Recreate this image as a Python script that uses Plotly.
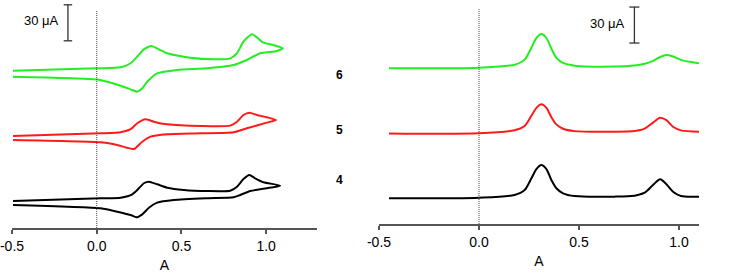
import plotly.graph_objects as go

# ---------------- Left panel: cyclic voltammograms (stacked currents, uA) -------------
cv6_v = [-0.494, 0.0, 0.141, 0.20, 0.239, 0.278, 0.322, 0.366, 0.416, 0.514, 0.651, 0.788, 0.828, 0.866, 0.916, 0.945, 0.984, 1.043, 1.098,
         1.063, 0.965, 0.886, 0.808, 0.651, 0.475, 0.357, 0.298, 0.269, 0.239, 0.21, 0.141, 0.063, 0.0, -0.494]
cv6_i = [131.1, 133.1, 133.9, 137.3, 142.8, 148.9, 151.7, 148.9, 145.6, 142.8, 140.8, 141.4, 145.6, 155.3, 161.4, 158.9, 154.4, 152.5, 149.8,
         147.5, 145.6, 140.0, 135.8, 133.1, 131.7, 128.9, 121.9, 116.4, 113.6, 115.0, 118.6, 121.9, 123.8, 126.1]

cv5_v = [-0.494, 0.024, 0.141, 0.20, 0.239, 0.288, 0.337, 0.416, 0.612, 0.788, 0.828, 0.866, 0.902, 0.945, 1.004, 1.059,
         1.004, 0.886, 0.808, 0.612, 0.416, 0.318, 0.269, 0.219, 0.18, 0.102, 0.024, -0.494]
cv5_i = [76.7, 78.9, 79.8, 82.3, 87.3, 90.6, 88.6, 86.4, 85.0, 85.3, 88.6, 94.2, 96.1, 94.2, 92.3, 90.0,
         87.8, 83.1, 79.8, 78.9, 78.1, 76.1, 71.9, 65.8, 66.9, 69.8, 71.4, 73.3]

cv4_v = [-0.494, 0.024, 0.141, 0.21, 0.249, 0.278, 0.308, 0.357, 0.416, 0.514, 0.651, 0.788, 0.828, 0.866, 0.90, 0.935, 0.984, 1.082,
         1.004, 0.906, 0.847, 0.808, 0.651, 0.455, 0.357, 0.308, 0.269, 0.235, 0.20, 0.122, 0.024, -0.494]
cv4_i = [22.5, 24.8, 25.3, 28.1, 33.1, 37.3, 38.6, 36.4, 33.6, 31.7, 30.8, 31.1, 34.4, 40.8, 44.2, 41.4, 38.1, 35.3,
         33.1, 30.8, 27.5, 25.6, 24.8, 23.3, 21.1, 16.9, 11.4, 8.9, 10.8, 13.6, 16.4, 19.2]

# ---------------- Right panel: differential pulse voltammograms -------------
dpv_v = [-0.45, 0.0, 0.178, 0.228, 0.262, 0.287, 0.312, 0.337, 0.362, 0.387, 0.42, 0.478, 0.678, 0.778,
         0.828, 0.87, 0.906, 0.937, 0.97, 1.01, 1.1]
dpv6_i = [129.8, 130.3, 132.7, 137.0, 147.0, 155.0, 158.3, 155.0, 146.0, 138.5, 134.2, 131.9, 131.2, 132.0,
          133.5, 136.0, 139.2, 140.8, 139.6, 136.8, 133.9]
dpv5_i = [75.5, 75.6, 78.2, 81.7, 90.2, 96.8, 99.7, 96.8, 89.0, 83.0, 79.4, 77.4, 76.9, 77.5,
          79.5, 84.5, 88.6, 86.5, 81.0, 78.0, 76.9]
dpv4_i = [21.4, 21.9, 24.2, 28.3, 38.1, 45.8, 49.2, 45.8, 36.7, 29.8, 25.6, 23.3, 22.8, 23.6,
          26.1, 32.5, 37.3, 33.1, 26.9, 23.3, 22.8]

compound_labels = ["6", "5", "4"]
colors = ["#22ee22", "#ff1a1a", "#000000"]
xticks = [-0.5, 0.0, 0.5, 1.0]
xticklabels = ["-0.5", "0.0", "0.5", "1.0"]
scale_uA = 30

fig = go.Figure()

for v, i, c in [(cv6_v, cv6_i, colors[0]), (cv5_v, cv5_i, colors[1]), (cv4_v, cv4_i, colors[2])]:
    fig.add_trace(go.Scatter(x=v, y=i, mode="lines", line=dict(color=c, width=2, shape="spline", smoothing=0.6),
                             xaxis="x", yaxis="y", showlegend=False, hoverinfo="skip", cliponaxis=False))

for i, c in [(dpv6_i, colors[0]), (dpv5_i, colors[1]), (dpv4_i, colors[2])]:
    fig.add_trace(go.Scatter(x=dpv_v, y=i, mode="lines", line=dict(color=c, width=2, shape="spline", smoothing=0.8),
                             xaxis="x2", yaxis="y2", showlegend=False, hoverinfo="skip", cliponaxis=False))

# zero-potential dotted lines
fig.add_trace(go.Scatter(x=[0, 0], y=[0, 181], mode="lines", line=dict(color="#444", width=1, dash="1px,1px"),
                         xaxis="x", yaxis="y", showlegend=False, hoverinfo="skip"))
fig.add_trace(go.Scatter(x=[0, 0], y=[0, 179], mode="lines", line=dict(color="#444", width=1, dash="1px,1px"),
                         xaxis="x2", yaxis="y2", showlegend=False, hoverinfo="skip"))


def scale_bar(x0, ytop, dx, xa, ya):
    ybot = ytop - scale_uA
    fig.add_trace(go.Scatter(x=[x0 - dx, x0 + dx, None, x0, x0, None, x0 - dx, x0 + dx],
                             y=[ytop, ytop, None, ytop, ybot, None, ybot, ybot],
                             mode="lines", line=dict(color="#333", width=1.3),
                             xaxis=xa, yaxis=ya, showlegend=False, hoverinfo="skip", cliponaxis=False))


scale_bar(-0.17, 186.0, 0.025, "x", "y")
scale_bar(0.777, 180.8, 0.025, "x2", "y2")

font = "Liberation Sans, Arial, sans-serif"
annotations = [
    dict(x=-0.21, y=173, xref="x", yref="y", text="30 μA", showarrow=False, xanchor="right", yanchor="middle",
         font=dict(family=font, size=13, color="#000")),
    dict(x=0.742, y=166.7, xref="x2", yref="y2", text="30 μA", showarrow=False, xanchor="right", yanchor="middle",
         font=dict(family=font, size=13, color="#000")),
]

W, H = 733, 276
L, R, T, B = 12, 34, 0, 48
pw = W - L - R
ph = H - T - B
label_y_px = [66, 130, 189]
for lab, ypx in zip(compound_labels, label_y_px):
    annotations.append(dict(x=(339 - L) / pw, y=(H - B - ypx) / ph, xref="paper", yref="paper",
                            text="<b>%s</b>" % lab, showarrow=False,
                            font=dict(family=font, size=12, color="#000")))

axis_common = dict(showgrid=False, zeroline=False, showline=True, linecolor="#555", linewidth=1.5,
                   ticks="outside", ticklen=4, tickwidth=1.5, tickcolor="#555",
                   tickvals=xticks, ticktext=xticklabels, automargin=False, ticklabeloverflow="allow",
                   tickfont=dict(family=font, size=14, color="#000"),
                   title=dict(text="A", font=dict(family=font, size=14, color="#000"), standoff=8))

fig.update_layout(
    width=W, height=H, margin=dict(l=L, r=R, t=T, b=B, autoexpand=False),
    paper_bgcolor="white", plot_bgcolor="white",
    xaxis=dict(domain=[0, (317 - L) / pw], range=[-0.5, 1.3], anchor="y", **axis_common),
    yaxis=dict(domain=[0, 1], range=[0, 190], visible=False),
    xaxis2=dict(domain=[(379 - L) / pw, 1], range=[-0.5, 1.1], anchor="y2", **axis_common),
    yaxis2=dict(domain=[4 / ph, 1], range=[0, 186.67], visible=False),
    annotations=annotations,
)

fig.write_html("out.html", config={"displayModeBar": False},
               post_script="document.body.style.margin='0';document.body.style.overflow='hidden';")
